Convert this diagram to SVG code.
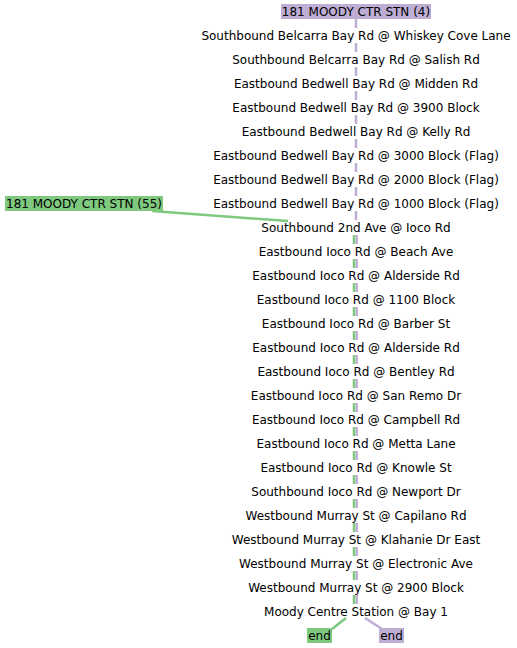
<svg xmlns="http://www.w3.org/2000/svg" width="517" height="648" viewBox="0 0 517 648">
<style>
text{font-family:"DejaVu Sans",sans-serif;font-size:12px;fill:#000;text-anchor:middle;dominant-baseline:central}
.p{stroke:#beaed4;stroke-width:2.5;fill:none}
.g{stroke:#7fc97f;stroke-width:2.5;fill:none}
.pf{fill:#beaed4}
.gf{fill:#7fc97f}
</style>
<rect width="517" height="648" fill="#fff"/>
<g id="connectors">
<g class="p">
<line x1="356" y1="19" x2="356" y2="28"/>
<line x1="356" y1="43" x2="356" y2="52"/>
<line x1="356" y1="67" x2="356" y2="76"/>
<line x1="356" y1="91" x2="356" y2="100"/>
<line x1="356" y1="115" x2="356" y2="124"/>
<line x1="356" y1="139" x2="356" y2="148"/>
<line x1="356" y1="163" x2="356" y2="172"/>
<line x1="356" y1="187" x2="356" y2="196"/>
<line x1="356" y1="211" x2="356" y2="220"/>
<line x1="356.7" y1="235" x2="356.7" y2="244"/>
<line x1="356.7" y1="259" x2="356.7" y2="268"/>
<line x1="356.7" y1="283" x2="356.7" y2="292"/>
<line x1="356.7" y1="307" x2="356.7" y2="316"/>
<line x1="356.7" y1="331" x2="356.7" y2="340"/>
<line x1="356.7" y1="355" x2="356.7" y2="364"/>
<line x1="356.7" y1="379" x2="356.7" y2="388"/>
<line x1="356.7" y1="403" x2="356.7" y2="412"/>
<line x1="356.7" y1="427" x2="356.7" y2="436"/>
<line x1="356.7" y1="451" x2="356.7" y2="460"/>
<line x1="356.7" y1="475" x2="356.7" y2="484"/>
<line x1="356.7" y1="499" x2="356.7" y2="508"/>
<line x1="356.7" y1="523" x2="356.7" y2="532"/>
<line x1="356.7" y1="547" x2="356.7" y2="556"/>
<line x1="356.7" y1="571" x2="356.7" y2="580"/>
<line x1="356.7" y1="595" x2="356.7" y2="604"/>
<line x1="365" y1="618" x2="382" y2="629"/>
</g>
<g class="g">
<line x1="152" y1="211" x2="288" y2="221"/>
<line x1="354" y1="235" x2="354" y2="244"/>
<line x1="354" y1="259" x2="354" y2="268"/>
<line x1="354" y1="283" x2="354" y2="292"/>
<line x1="354" y1="307" x2="354" y2="316"/>
<line x1="354" y1="331" x2="354" y2="340"/>
<line x1="354" y1="355" x2="354" y2="364"/>
<line x1="354" y1="379" x2="354" y2="388"/>
<line x1="354" y1="403" x2="354" y2="412"/>
<line x1="354" y1="427" x2="354" y2="436"/>
<line x1="354" y1="451" x2="354" y2="460"/>
<line x1="354" y1="475" x2="354" y2="484"/>
<line x1="354" y1="499" x2="354" y2="508"/>
<line x1="354" y1="523" x2="354" y2="532"/>
<line x1="354" y1="547" x2="354" y2="556"/>
<line x1="354" y1="571" x2="354" y2="580"/>
<line x1="354" y1="595" x2="354" y2="604"/>
<line x1="346" y1="618" x2="332" y2="629"/>
</g>
</g>
<g id="n0"><rect class="pf" x="281" y="4" width="150" height="15"/><text x="356" y="11.5">181 MOODY CTR STN (4)</text></g>
<g id="n55"><rect class="gf" x="5" y="196" width="158" height="15"/><text x="84" y="203.5">181 MOODY CTR STN (55)</text></g>
<g id="n1"><text x="356" y="35.5">Southbound Belcarra Bay Rd @ Whiskey Cove Lane</text></g>
<g id="n2"><text x="356" y="59.5">Southbound Belcarra Bay Rd @ Salish Rd</text></g>
<g id="n3"><text x="356" y="83.5">Eastbound Bedwell Bay Rd @ Midden Rd</text></g>
<g id="n4"><text x="356" y="107.5">Eastbound Bedwell Bay Rd @ 3900 Block</text></g>
<g id="n5"><text x="356" y="131.5">Eastbound Bedwell Bay Rd @ Kelly Rd</text></g>
<g id="n6"><text x="356" y="155.5">Eastbound Bedwell Bay Rd @ 3000 Block (Flag)</text></g>
<g id="n7"><text x="356" y="179.5">Eastbound Bedwell Bay Rd @ 2000 Block (Flag)</text></g>
<g id="n8"><text x="356" y="203.5">Eastbound Bedwell Bay Rd @ 1000 Block (Flag)</text></g>
<g id="n9"><text x="356" y="227.5">Southbound 2nd Ave @ Ioco Rd</text></g>
<g id="n10"><text x="356" y="251.5">Eastbound Ioco Rd @ Beach Ave</text></g>
<g id="n11"><text x="356" y="275.5">Eastbound Ioco Rd @ Alderside Rd</text></g>
<g id="n12"><text x="356" y="299.5">Eastbound Ioco Rd @ 1100 Block</text></g>
<g id="n13"><text x="356" y="323.5">Eastbound Ioco Rd @ Barber St</text></g>
<g id="n14"><text x="356" y="347.5">Eastbound Ioco Rd @ Alderside Rd</text></g>
<g id="n15"><text x="356" y="371.5">Eastbound Ioco Rd @ Bentley Rd</text></g>
<g id="n16"><text x="356" y="395.5">Eastbound Ioco Rd @ San Remo Dr</text></g>
<g id="n17"><text x="356" y="419.5">Eastbound Ioco Rd @ Campbell Rd</text></g>
<g id="n18"><text x="356" y="443.5">Eastbound Ioco Rd @ Metta Lane</text></g>
<g id="n19"><text x="356" y="467.5">Eastbound Ioco Rd @ Knowle St</text></g>
<g id="n20"><text x="356" y="491.5">Southbound Ioco Rd @ Newport Dr</text></g>
<g id="n21"><text x="356" y="515.5">Westbound Murray St @ Capilano Rd</text></g>
<g id="n22"><text x="356" y="539.5">Westbound Murray St @ Klahanie Dr East</text></g>
<g id="n23"><text x="356" y="563.5">Westbound Murray St @ Electronic Ave</text></g>
<g id="n24"><text x="356" y="587.5">Westbound Murray St @ 2900 Block</text></g>
<g id="n25"><text x="356" y="611.5">Moody Centre Station @ Bay 1</text></g>
<g id="end55"><rect class="gf" x="307" y="628" width="25" height="15"/><text x="319.5" y="635.5">end</text></g>
<g id="end4"><rect class="pf" x="379" y="628" width="25" height="15"/><text x="391.5" y="635.5">end</text></g>
</svg>
